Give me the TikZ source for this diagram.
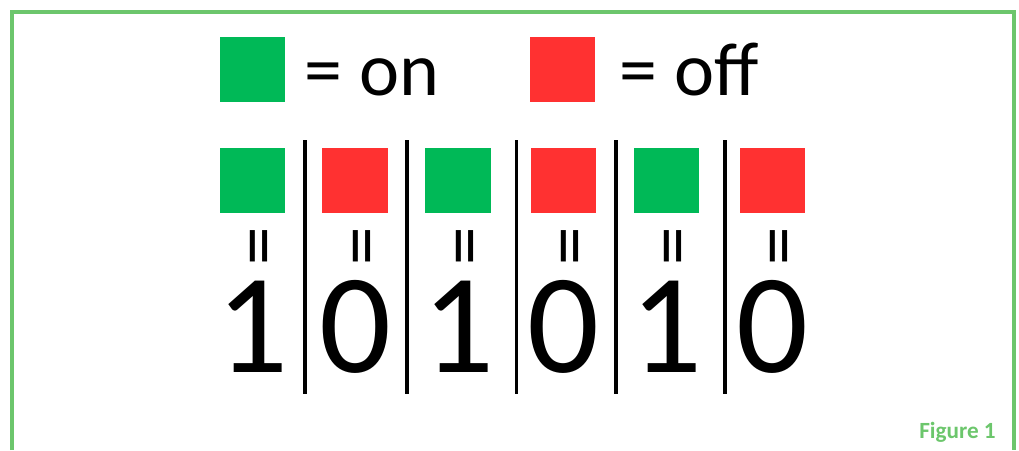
\documentclass[tikz,border=0pt]{standalone}
\usepackage{fontspec}
\setmainfont{Carlito}
\usepackage{xcolor}
\usepackage{tikz}
\usetikzlibrary{positioning}
\definecolor{bitgreen}{HTML}{00B957}
\definecolor{bitred}{HTML}{FF3131}
\definecolor{framegreen}{HTML}{6CC66C}

\begin{document}
\begin{tikzpicture}[
    x=0.025cm, y=-0.025cm,
    onbox/.style={fill=bitgreen, minimum size=1.625cm, inner sep=0pt},
    offbox/.style={fill=bitred, minimum size=1.625cm, inner sep=0pt},
    legendtext/.style={anchor=base west, inner sep=0pt, font=\fontsize{54}{54}\selectfont},
    eqsign/.style={rotate=90, inner sep=0pt, font=\fontsize{55}{55}\selectfont},
    bitdigit/.style={anchor=base, inner sep=0pt, font=\fontsize{101}{101}\selectfont},
    divider/.style={line width=2.2pt}
]
\useasboundingbox (0,0) rectangle (1019,450);
\draw[framegreen, line width=2.2pt] (12,450) -- (12,12) -- (1014,12) -- (1014,450);

% legend
\node[onbox] (keyon) at (252.5,69.5) {};
\node[legendtext] (keyontext) at (304,95) {= on};
\node[offbox] (keyoff) at (562.5,69.5) {};
\node[legendtext] (keyofftext) at (619,95) {= off};

% bits
\node[onbox]  (sq1) at (252.5,180.5) {};
\node[offbox] (sq2) at (355,180.5) {};
\node[onbox]  (sq3) at (458,180.5) {};
\node[offbox] (sq4) at (563.5,180.5) {};
\node[onbox]  (sq5) at (666.5,180.5) {};
\node[offbox] (sq6) at (772.5,180.5) {};

% the = signs sit high in their box, hence the shift to the right
\node[eqsign] (eq1) at (267,246) {=};
\node[eqsign] (eq2) at (369.5,246) {=};
\node[eqsign] (eq3) at (472.5,246) {=};
\node[eqsign] (eq4) at (578,246) {=};
\node[eqsign] (eq5) at (681,246) {=};
\node[eqsign] (eq6) at (787,246) {=};

\node[bitdigit] (bit1) at (252.5,372) {1};
\node[bitdigit] (bit2) at (355,372) {0};
\node[bitdigit] (bit3) at (458,372) {1};
\node[bitdigit] (bit4) at (563.5,372) {0};
\node[bitdigit] (bit5) at (666.5,372) {1};
\node[bitdigit] (bit6) at (772.5,372) {0};

% dividers
\draw[divider] (305,140) -- (305,394);
\draw[divider] (407,140) -- (407,394);
\draw[divider] (516.5,140) -- (516.5,394);
\draw[divider] (616,140) -- (616,394);
\draw[divider] (725,140) -- (725,394);

\node[anchor=base east, inner sep=0pt, text=framegreen, font=\bfseries\fontsize{16.5}{17}\selectfont] (figlabel) at (996,438) {Figure 1};
\end{tikzpicture}
\end{document}
